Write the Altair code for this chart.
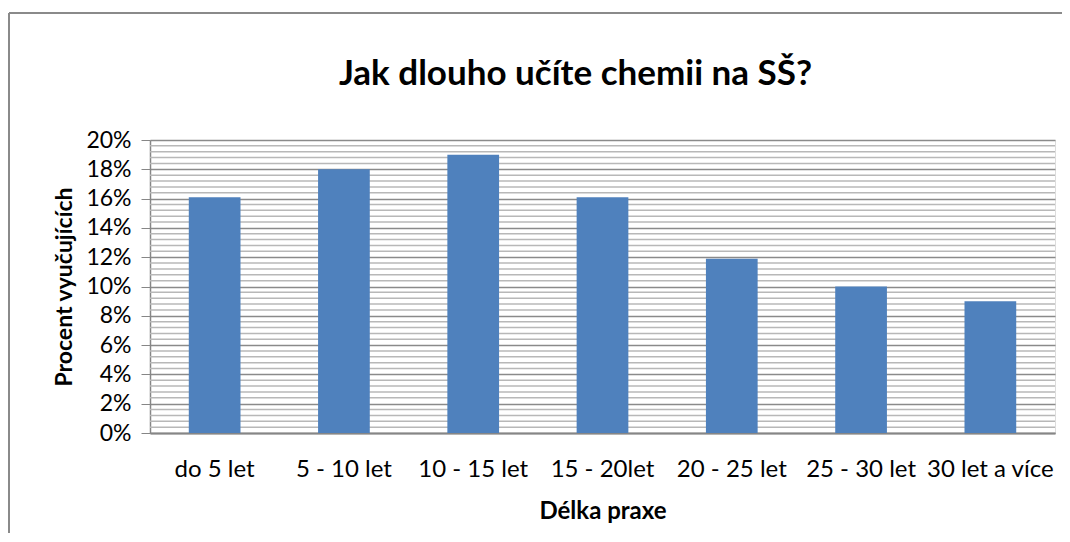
import altair as alt
import pandas as pd

categories = ["do 5 let", "5 - 10 let", "10 - 15 let", "15 - 20let", "20 - 25 let", "25 - 30 let", "30 let a více"]
values = [0.161, 0.180, 0.190, 0.161, 0.119, 0.100, 0.090]
major_ticks = [0.0, 0.02, 0.04, 0.06, 0.08, 0.10, 0.12, 0.14, 0.16, 0.18, 0.20]
minor_ticks = [i * 0.004 for i in range(1, 50) if i % 5 != 0]

df = pd.DataFrame({"cat": categories, "val": values})
minor_df = pd.DataFrame({"v": minor_ticks})

FONT = "Lato"

yscale = alt.Scale(domain=[0, 0.2], nice=False)
yaxis = alt.Axis(title="Procent vyučujících", values=major_ticks, format=".0%",
                 labelFont=FONT, labelFontSize=23, labelColor="#000",
                 labelPadding=10, tickSize=9, tickColor="#868686",
                 domainColor="#868686", domainWidth=1.5,
                 gridColor="#8a8a8a", gridWidth=1.5,
                 titleFont=FONT, titleFontSize=23, titleFontWeight="bold",
                 titleColor="#000", titlePadding=9)

minor = alt.Chart(minor_df).mark_rule(color="#b8b8b8", strokeWidth=1.5).encode(
    y=alt.Y("v:Q", scale=yscale, axis=yaxis, title="Procent vyučujících")
)

bars = alt.Chart(df).mark_bar(color="#4f81bd").encode(
    x=alt.X("cat:N", sort=categories,
            scale=alt.Scale(paddingInner=0.6, paddingOuter=0.3),
            axis=alt.Axis(title="Délka praxe", labelAngle=0, labelFontSize=24,
                          labelFont=FONT, labelColor="#000", labelPadding=24,
                          ticks=False, domainColor="#868686", domainWidth=2,
                          titleFont=FONT, titleFontSize=24, titleFontWeight="bold",
                          titleColor="#000", titlePadding=18, grid=False)),
    y=alt.Y("val:Q", scale=yscale, axis=yaxis, title="Procent vyučujících"),
)

frame_left = alt.Chart(df).mark_rule(color="#8a8a8a", strokeWidth=2).encode(
    x=alt.value(-141), y=alt.value(-127), y2=alt.value(420)
)
frame_top = alt.Chart(df).mark_rule(color="#8a8a8a", strokeWidth=2).encode(
    y=alt.value(-127), x=alt.value(-141), x2=alt.value(940)
)

chart = alt.layer(minor, bars, frame_left, frame_top).properties(
    width=905, height=293,
    padding={"left": 142, "top": 132, "right": 7, "bottom": 100},
    autosize=alt.AutoSizeParams(type="none"),
    title=alt.Title("Jak dlouho učíte chemii na SŠ?", font=FONT, fontSize=35,
                    fontWeight="bold", color="#000", offset=-80, dx=-27,
                    frame="group"),
).configure_view(stroke=None).configure(background="white")

chart.save("out.html", embed_options={"renderer": "svg", "actions": False})
